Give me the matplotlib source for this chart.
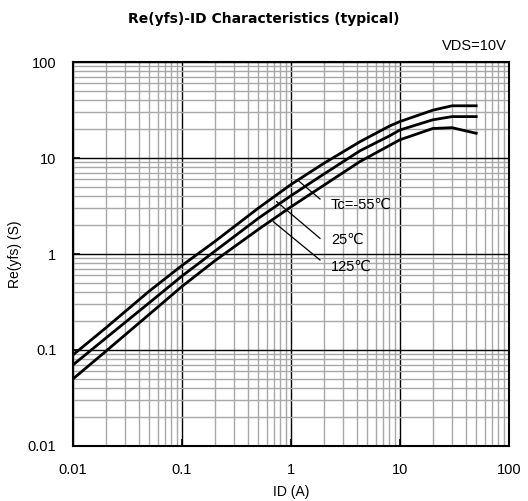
import matplotlib
matplotlib.use("Agg")
from matplotlib import pyplot as plt
from matplotlib.ticker import LogLocator, NullFormatter

plt.rcParams['font.family'] = ['Liberation Sans', 'DejaVu Sans', 'Noto Sans CJK JP']

# drain current (A)
ID = [0.01, 0.02, 0.05, 0.1, 0.2, 0.5, 1, 2, 4.3, 8, 10, 20, 30, 50]
# forward transfer admittance (S)
yfs_m55 = [0.089, 0.17, 0.41, 0.76, 1.35, 3.0, 5.3, 8.8, 14.8, 21.5, 24.0, 31.5, 35.0, 35.0]
yfs_25 = [0.070, 0.133, 0.31, 0.59, 1.07, 2.35, 4.05, 6.8, 11.9, 17.0, 19.6, 25.0, 27.0, 27.0]
yfs_125 = [0.050, 0.097, 0.235, 0.46, 0.85, 1.8, 3.1, 5.2, 9.2, 13.5, 15.5, 20.3, 20.7, 18.1]

labels = ["Tc=-55℃", "25℃", "125℃"]
lead_start = [(1.167, 5.81), (0.739, 3.51), (0.689, 2.17)]
lead_end = [(1.845, 3.74), (1.845, 1.456), (1.845, 0.866)]
label_pos = [(2.33, 3.24), (2.33, 1.40), (2.33, 0.738)]

fig = plt.figure(figsize=(5.28, 5.01), dpi=100)
ax = fig.add_axes([0.1383, 0.1098, 0.8257, 0.7664])

for y in (yfs_m55, yfs_25, yfs_125):
    ax.plot(ID, y, color="black", lw=2)

for s, e, p, t in zip(lead_start, lead_end, label_pos, labels):
    ax.plot([s[0], e[0]], [s[1], e[1]], color="black", lw=0.9)
    ax.text(p[0], p[1], t, fontsize=10.5, va="center", ha="left")

ax.set_xscale("log")
ax.set_yscale("log")
ax.set_xlim(0.01, 100)
ax.set_ylim(0.01, 100)
ax.set_xticks([0.01, 0.1, 1, 10, 100])
ax.set_xticklabels(["0.01", "0.1", "1", "10", "100"])
ax.set_yticks([0.01, 0.1, 1, 10, 100])
ax.set_yticklabels(["0.01", "0.1", "1", "10", "100"])
ax.xaxis.set_minor_locator(LogLocator(base=10, subs=range(2, 10)))
ax.yaxis.set_minor_locator(LogLocator(base=10, subs=range(2, 10)))
ax.xaxis.set_minor_formatter(NullFormatter())
ax.yaxis.set_minor_formatter(NullFormatter())
ax.grid(which="major", color="black", lw=1.0)
ax.grid(which="minor", color="#a8a8a8", lw=1.0)
ax.set_axisbelow(True)
ax.tick_params(which="major", direction="in", length=5, width=1.2, labelsize=10.5, pad=12)
ax.tick_params(which="minor", length=0)
for sp in ax.spines.values():
    sp.set_linewidth(1.5)

ax.set_xlabel("ID (A)", fontsize=10, labelpad=6)
ax.set_ylabel("Re(yfs) (S)", fontsize=10, labelpad=4)
fig.text(0.5, 0.963, "Re(yfs)-ID Characteristics (typical)", ha="center", va="center",
         fontsize=10, fontweight="bold", family="DejaVu Sans")
fig.text(0.96, 0.908, "VDS=10V", ha="right", va="center", fontsize=10.5)

fig.savefig("out.png", dpi=100)
